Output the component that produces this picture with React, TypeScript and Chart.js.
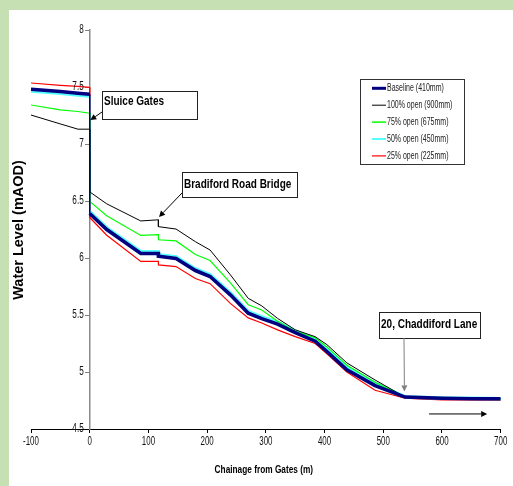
import React, { useEffect, useRef } from "react";
import { Chart, registerables } from "chart.js";

Chart.register(...registerables);

// ---------- data ----------
const CHAINAGE = [-100, -50, -20, 0, 0, 29, 87, 117, 117, 147, 180, 205, 240, 270, 293, 320, 350, 384, 404, 438, 486, 537, 600, 650, 700];

const BASELINE = [7.48, 7.46, 7.445, 7.436, 6.39, 6.25, 6.04, 6.04, 6.015, 5.995, 5.89, 5.838, 5.675, 5.515, 5.468, 5.42, 5.345, 5.27, 5.18, 5.02, 4.88, 4.78, 4.77, 4.765, 4.765];
const OPEN_100 = [7.254, 7.176, 7.13, 7.13, 6.58, 6.475, 6.325, 6.335, 6.275, 6.254, 6.143, 6.07, 5.85, 5.646, 5.58, 5.47, 5.37, 5.31, 5.24, 5.08, 4.93, 4.78, 4.77, 4.765, 4.765];
const OPEN_75 = [7.342, 7.3, 7.285, 7.27, 6.497, 6.37, 6.198, 6.205, 6.16, 6.15, 6.03, 5.978, 5.78, 5.59, 5.544, 5.445, 5.357, 5.3, 5.22, 5.06, 4.91, 4.78, 4.775, 4.77, 4.765];
const OPEN_50 = [7.465, 7.445, 7.43, 7.42, 6.405, 6.265, 6.055, 6.055, 6.03, 6.01, 5.905, 5.853, 5.69, 5.53, 5.483, 5.435, 5.36, 5.285, 5.2, 5.04, 4.9, 4.782, 4.772, 4.77, 4.765];
const OPEN_25 = [7.535, 7.515, 7.505, 7.497, 6.355, 6.2, 5.97, 5.97, 5.94, 5.925, 5.82, 5.775, 5.6, 5.475, 5.43, 5.37, 5.31, 5.25, 5.16, 5.0, 4.84, 4.77, 4.755, 4.755, 4.75];

const SERIES_LABELS = [
  "Baseline (410mm)",
  "100% open (900mm)",
  "75% open (675mm)",
  "50% open (450mm)",
  "25% open (225mm)",
];

const X_TICKS = [-100, 0, 100, 200, 300, 400, 500, 600, 700];
const Y_TICKS = [4.5, 5, 5.5, 6, 6.5, 7, 7.5, 8];

const X_TITLE = "Chainage from Gates (m)";
const Y_TITLE = "Water Level (mAOD)";

const NOTE_TEXTS = ["Sluice Gates", "Bradiford Road Bridge", "20, Chaddiford Lane"];

// ---------- styles / layout ----------
const SANS = '"Liberation Sans", Arial, sans-serif';

const SERIES_STYLE = [
  { color: "#000080", width: 3.6, legendWidth: 3 },
  { color: "#000000", width: 1, legendWidth: 1 },
  { color: "#00ff00", width: 1.2, legendWidth: 1.5 },
  { color: "#55ffff", width: 3.4, legendWidth: 2 },
  { color: "#ff0000", width: 1.2, legendWidth: 1.2 },
];

// annotation boxes in pixels, arrow tips in data coordinates
const NOTES = [
  { box: [102.5, 91.5, 95, 28], textX: 104, textY: 104.5, from: [102, 112], to: { x: 1, y: 7.21 }, color: "#000" },
  { box: [182.5, 172.5, 115, 25], textX: 184, textY: 188, from: [182, 193], to: { x: 118, y: 6.36 }, color: "#000" },
  { box: [379.5, 312.5, 101, 26], textX: 381, textY: 328, from: [404, 338], to: { x: 536, y: 4.83 }, color: "#808080" },
];
const FLOW_ARROW = { x1: 578, x2: 677, y: 4.632 };

function text(
  ctx: CanvasRenderingContext2D,
  s: string,
  x: number,
  y: number,
  font: string,
  sx: number,
  align: CanvasTextAlign,
  baseline: CanvasTextBaseline,
  color = "#000"
) {
  ctx.save();
  ctx.translate(x, y);
  ctx.scale(sx, 1);
  ctx.font = font;
  ctx.fillStyle = color;
  ctx.textAlign = align;
  ctx.textBaseline = baseline;
  ctx.fillText(s, 0, 0);
  ctx.restore();
}

function drawArrow(ctx: CanvasRenderingContext2D, x1: number, y1: number, x2: number, y2: number, color: string) {
  ctx.save();
  ctx.strokeStyle = color;
  ctx.fillStyle = color;
  ctx.lineWidth = 1;
  const ang = Math.atan2(y2 - y1, x2 - x1);
  const hl = 6;
  const hw = 3;
  const bx = x2 - hl * Math.cos(ang);
  const by = y2 - hl * Math.sin(ang);
  ctx.beginPath();
  ctx.moveTo(x1, y1);
  ctx.lineTo(bx, by);
  ctx.stroke();
  ctx.beginPath();
  ctx.moveTo(x2, y2);
  ctx.lineTo(bx + hw * Math.sin(ang), by - hw * Math.cos(ang));
  ctx.lineTo(bx - hw * Math.sin(ang), by + hw * Math.cos(ang));
  ctx.closePath();
  ctx.fill();
  ctx.restore();
}

const decorPlugin = {
  id: "decor",
  beforeDraw(chart: any) {
    const { ctx, width, height } = chart;
    ctx.save();
    ctx.fillStyle = "#c6e0b4";
    ctx.fillRect(0, 0, width, height);
    ctx.fillStyle = "#ffffff";
    ctx.fillRect(9, 10, width - 9, height - 10);
    ctx.restore();
  },
  afterDraw(chart: any) {
    const { ctx } = chart;
    const xs = chart.scales.x;
    const ys = chart.scales.y;
    ctx.save();

    // tick labels
    const axisX = xs.getPixelForValue(0);
    Y_TICKS.forEach((v) => {
      text(ctx, String(v), axisX - 6, ys.getPixelForValue(v), `12px ${SANS}`, 0.68, "right", "middle", "#111");
    });
    X_TICKS.forEach((v) => {
      text(ctx, String(v), xs.getPixelForValue(v), 442, `12px ${SANS}`, 0.66, "center", "middle", "#111");
    });

    // axis titles
    text(ctx, X_TITLE, (xs.left + xs.right) / 2 - 2, 470, `bold 11.5px ${SANS}`, 0.72, "center", "middle");
    ctx.save();
    ctx.translate(19, 230);
    ctx.rotate(-Math.PI / 2);
    text(ctx, Y_TITLE, 0, 0, `bold 14.5px ${SANS}`, 1, "center", "middle");
    ctx.restore();

    // legend
    const lb = [360.5, 79.5, 104, 85];
    ctx.fillStyle = "#fff";
    ctx.fillRect(lb[0], lb[1], lb[2], lb[3]);
    ctx.strokeStyle = "#333";
    ctx.lineWidth = 1;
    ctx.strokeRect(lb[0], lb[1], lb[2], lb[3]);
    chart.data.datasets.forEach((ds: any, i: number) => {
      const y = 88.3 + i * 16.9;
      ctx.strokeStyle = ds.borderColor;
      ctx.lineWidth = SERIES_STYLE[i].legendWidth;
      ctx.beginPath();
      ctx.moveTo(372, y);
      ctx.lineTo(386, y);
      ctx.stroke();
      text(ctx, ds.label, 387, y, `10px ${SANS}`, 0.7, "left", "middle", "#222");
    });

    // annotations
    NOTES.forEach((n, i) => {
      const [bx, by, bw, bh] = n.box;
      ctx.fillStyle = "#fff";
      ctx.fillRect(bx, by, bw, bh);
      ctx.strokeStyle = "#222";
      ctx.lineWidth = 1;
      ctx.strokeRect(bx, by, bw, bh);
      text(ctx, NOTE_TEXTS[i], n.textX, n.textY, `bold 13px ${SANS}`, 0.77, "left", "alphabetic");
      drawArrow(ctx, n.from[0], n.from[1], xs.getPixelForValue(n.to.x), ys.getPixelForValue(n.to.y), n.color);
    });

    const fy = ys.getPixelForValue(FLOW_ARROW.y);
    drawArrow(ctx, xs.getPixelForValue(FLOW_ARROW.x1), fy, xs.getPixelForValue(FLOW_ARROW.x2), fy, "#000");

    ctx.restore();
  },
};

export default function App() {
  const ref = useRef<HTMLCanvasElement | null>(null);

  useEffect(() => {
    if (!ref.current) return;
    const seriesValues = [BASELINE, OPEN_100, OPEN_75, OPEN_50, OPEN_25];
    const datasets = seriesValues.map((vals, i) => ({
      label: SERIES_LABELS[i],
      data: CHAINAGE.map((x, j) => ({ x, y: vals[j] })),
      borderColor: SERIES_STYLE[i].color,
      backgroundColor: SERIES_STYLE[i].color,
      borderWidth: SERIES_STYLE[i].width,
      pointRadius: 0,
      tension: 0,
      fill: false,
      segment: {
        borderWidth: (c: any) =>
          c.p0.parsed.x === 0 && c.p1.parsed.x === 0 ? 1 : undefined,
      },
    }));

    const chart = new Chart(ref.current, {
      type: "line",
      data: { datasets },
      options: {
        animation: false,
        responsive: false,
        maintainAspectRatio: false,
        layout: { padding: { left: 31, top: 30, right: 12.3, bottom: 0 } },
        plugins: { legend: { display: false }, tooltip: { enabled: false } },
        scales: {
          x: {
            type: "linear",
            position: "bottom",
            min: X_TICKS[0],
            max: X_TICKS[X_TICKS.length - 1],
            afterBuildTicks: (s: any) => {
              s.ticks = X_TICKS.map((v) => ({ value: v }));
            },
            ticks: { display: false },
            grid: { display: true, drawOnChartArea: false, drawTicks: true, tickLength: 4, color: "#000" },
            border: { display: true, color: "#000", width: 1 },
            title: { display: false },
            afterFit: (s: any) => {
              s.height = 57;
            },
          } as any,
          y: {
            type: "linear",
            position: { x: 0 } as any,
            z: 1,
            min: Y_TICKS[0],
            max: Y_TICKS[Y_TICKS.length - 1],
            afterBuildTicks: (s: any) => {
              s.ticks = Y_TICKS.map((v) => ({ value: v }));
            },
            ticks: { display: false },
            grid: { display: true, drawOnChartArea: false, drawTicks: true, tickLength: 4, color: "#808080" },
            border: { display: true, color: "#8a8a8a", width: 1.5 },
          } as any,
        },
      },
      plugins: [decorPlugin],
    });
    return () => chart.destroy();
  }, []);

  return (
    <div style={{ position: "fixed", left: 0, top: 0, width: 513, height: 486 }}>
      <canvas ref={ref} width={513} height={486} style={{ display: "block", width: 513, height: 486 }} />
    </div>
  );
}
